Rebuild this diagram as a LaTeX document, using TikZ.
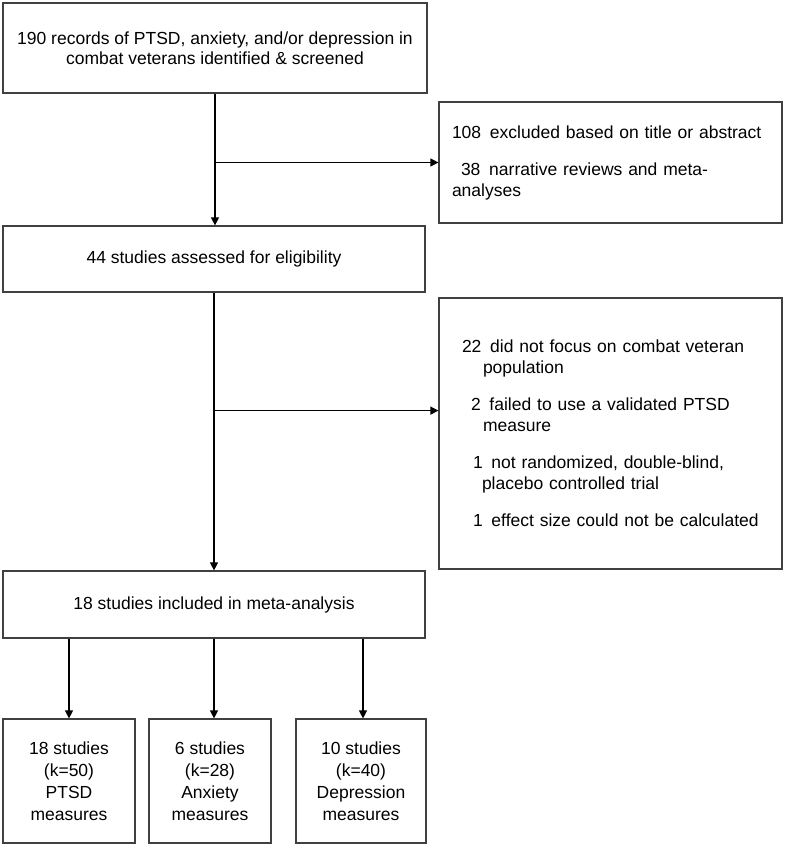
\documentclass[tikz,border=0pt]{standalone}
\usepackage{fontspec}
\setmainfont{Liberation Sans}
\usetikzlibrary{arrows.meta,positioning}
\newcommand{\flowfont}{\fontsize{17.5}{20.5}\selectfont}
\newcommand{\outfont}{\fontsize{17.5}{22}\selectfont}

\begin{document}
\begin{tikzpicture}[
  x=1pt, y=1pt,
  box/.style={
    draw=black!75, line width=1.2pt,
    inner sep=0pt, align=center, font=\flowfont
  },
  exbox/.style={box, align=left, inner xsep=13pt, text width=317pt},
  outbox/.style={box, font=\outfont, minimum height=124pt},
  lnk/.style={-{Triangle[length=8pt,width=8pt]}, line width=1.2pt},
]
\useasboundingbox (0,0) rectangle (785,-845);

%% main column
\node[box, minimum width=424pt, minimum height=90pt] (rec) at (215,-48)
  {190 records of PTSD, anxiety, and/or depression in\\
   combat veterans identified \& screened};

\node[box, minimum width=422pt, minimum height=66pt] (elig) at (214,-259)
  {44 studies assessed for eligibility};

\node[box, minimum width=422pt, minimum height=67pt] (incl) at (214,-604.5)
  {18 studies included in meta-analysis};

%% exclusion boxes
\node[exbox, minimum width=343pt, minimum height=121pt] (exA) at (610.5,-162.5)
  {108\enspace excluded based on title or abstract\\[17pt]
   \hspace*{9pt}38\enspace narrative reviews and meta-\\
   analyses};

\node[exbox, minimum width=343pt, minimum height=271pt] (exB) at (610.5,-433.5)
  {\hspace*{10pt}22\enspace did not focus on combat veteran\\
   \hspace*{31pt}population\\[17pt]
   \hspace*{19pt}2\enspace failed to use a validated PTSD\\
   \hspace*{31pt}measure\\[17pt]
   \hspace*{21pt}1\enspace not randomized, double-blind,\\
   \hspace*{30pt}placebo controlled trial\\[17pt]
   \hspace*{21pt}1\enspace effect size could not be calculated};

%% outcome boxes
\node[outbox, minimum width=132pt] (ptsd) at (69,-781)
  {18 studies\\(k=50)\\PTSD\\measures};
\node[outbox, minimum width=122pt] (anx) at (210,-781)
  {6 studies\\(k=28)\\Anxiety\\measures};
\node[outbox, minimum width=130pt] (dep) at (361,-781)
  {10 studies\\(k=40)\\Depression\\measures};

%% flow
\draw[lnk] (rec.south) -- (rec.south |- elig.north);
\draw[lnk] (rec.south |- exA.west) -- (exA.west);
\draw[lnk] (elig.south) -- (elig.south |- incl.north);
\coordinate[below=118pt of elig.south] (split);
\draw[lnk] (split) -- (split -| exB.west);

%% to outcomes
\draw[lnk] (ptsd.north |- incl.south) -- (ptsd.north);
\draw[lnk] (incl.south) -- (incl.south |- anx.north);
\draw[lnk] ([xshift=2pt]dep.north |- incl.south) -- ([xshift=2pt]dep.north);
\end{tikzpicture}
\end{document}
